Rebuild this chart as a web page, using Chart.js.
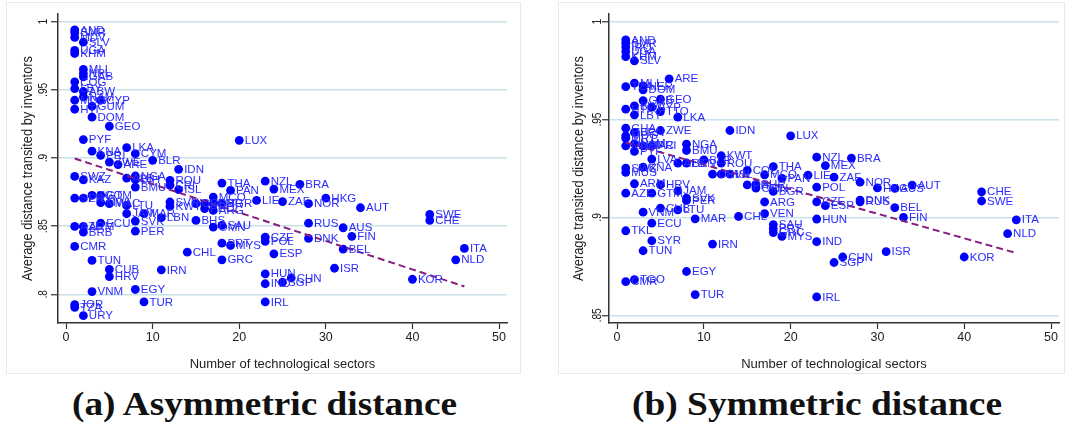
<!DOCTYPE html>
<html>
<head>
<meta charset="utf-8">
<script src="https://cdn.jsdelivr.net/npm/chart.js@4.4.0/dist/chart.umd.min.js"></script>
<style>
  body { margin: 0; background: #fff; width: 1067px; height: 425px; overflow: hidden; position: relative; }
  .panel { position: absolute; top: 2px; height: 372px; border: 1px solid #e2ebee; box-sizing: border-box; }
  .wrap { position: absolute; top: 0; }
  .caption { position: absolute; top: 388px; font: bold 33px 'Liberation Serif', serif; line-height: 33px;
             color: #111; white-space: nowrap; transform-origin: left top; }
</style>
</head>
<body>
<div class="panel" style="left:6px;width:515px"></div>
<div class="panel" style="left:558px;width:507px"></div>
<div class="wrap" style="left:0"><canvas id="asymChart" width="520" height="372"></canvas></div>
<div class="wrap" style="left:551px"><canvas id="symChart" width="516" height="372"></canvas></div>
<div class="caption" id="capA">(a) Asymmetric distance</div>
<div class="caption" id="capB">(b) Symmetric distance</div>

<script>
// Panel (a): asymmetric distance
const asymCodes = [
  'AND','SMR','MDV','SLV','UGA','KHM','MLI','NPL','GAB','COG',
  'LBY','ABW','NAM','MDG','CYP','GUM','HTI','DOM','GEO','PYF',
  'LUX','KNA','LKA','PRI','CYM','ZWE','ARE','BLR','IDN','SWZ',
  'KAZ','ALB','NGA','BIH','BMU','ROU','CRI','ISL','THA','PAN',
  'NZL','SEN','PRY','TGO','GTM','MWI','MAC','LTU','JAM','MAR',
  'SVK','LBN','SVN','KWT','COL','VEN','PHL','MCO','BHR','ARG',
  'BGR','BHS','OMN','SAU','AZE','ARM','BRB','ECU','PER','CMR',
  'TUN','CUB','HRV','IRN','CHL','GRC','PRT','MYS','VNM','EGY',
  'TUR','JOR','TZA','URY','MEX','BRA','LIE','ZAF','NOR','HKG',
  'AUT','RUS','AUS','CZE','POL','DNK','FIN','BEL','ESP','HUN',
  'IND','SGP','CHN','ISR','IRL','KOR','SWE','CHE','ITA','NLD'
];
const asymSectors = [
  1,1,1,2,1,1,2,2,2,1,
  1,2,2,1,4,3,1,3,5,2,
  20,3,7,4,8,5,6,10,13,1,
  2,7,8,8,8,12,12,13,18,19,
  23,1,2,3,4,4,5,7,7,9,
  8,11,12,12,15,16,16,17,17,17,
  18,15,17,18,1,2,2,4,8,1,
  3,5,5,11,14,18,18,19,3,8,
  9,1,1,2,24,27,22,25,28,30,
  34,28,32,23,23,28,33,32,24,23,
  23,25,26,31,23,40,42,42,46,45
];
const asymDistance = [
  .994,.992,.9885,.985,.979,.9767,.965,.962,.9596,.9559,
  .951,.9488,.9449,.9424,.9424,.938,.9358,.930,.9233,.9135,
  .913,.905,.9076,.902,.9032,.897,.8952,.8983,.8917,.8865,
  .884,.8853,.8868,.8841,.8787,.8836,.880,.8768,.8816,.8762,
  .883,.8706,.8706,.8726,.8726,.8672,.8665,.8652,.8591,.8591,
  .8537,.8562,.8677,.8645,.8665,.8665,.8628,.8713,.8665,.8615,
  .8665,.8542,.8493,.8505,.8498,.8498,.8456,.8522,.8463,.8351,
  .8248,.8182,.813,.8179,.8309,.8253,.8375,.8358,.802,.8035,
  .7944,.7924,.7904,.7843,.8772,.8807,.8689,.868,.8665,.8706,
  .8635,.8522,.8488,.8419,.8388,.841,.8425,.8331,.8297,.815,
  .8077,.8088,.812,.8191,.7944,.811,.8586,.8542,.8336,.8253
];
const asymFitX = [1, 46];
const asymFitY = [0.8996, 0.8057];
const asymYTicks = [0.8, 0.85, 0.9, 0.95, 1];
const asymYLabels = ['.8', '.85', '.9', '.95', '1'];

// Panel (b): symmetric distance
const symCodes = [
  'AND','SMR','IRQ','UGA','KHM','SLV','ARE','MLI','TZA','NER',
  'DOM','GAB','GEO','CYP','TTO','BWA','HTI','LBY','LKA','GHA',
  'BRN','ZWE','MDG','MRT','IDN','LUX','MNG','PYF','NAM','MAC',
  'PRI','NGA','BMU','LVA','KWT','BLR','ROU','ALB','BEN','THA',
  'SWZ','MUS','KNA','CRI','SVN','ISL','COL','PHL','BHR','OMN',
  'MCO','PAN','BGR','ARG','VEN','CHL','MAR','SAU','PRT','GRC',
  'MYS','ARM','HRV','AZE','GTM','JAM','SVK','PER','CUB','LTU',
  'VNM','ECU','TKL','SYR','TUN','IRN','EGY','TGO','CMR','TUR',
  'NZL','BRA','MEX','LIE','ZAF','POL','NOR','HKG','AUS','AUT',
  'CZE','ESP','DNK','RUS','BEL','FIN','HUN','IND','CHN','SGP',
  'ISR','KOR','IRL','CHE','SWE','ITA','NLD'
];
const symSectors = [
  1,1,1,1,1,2,6,2,1,3,
  3,3,5,4,5,2,1,2,7,1,
  2,5,1,1,13,20,1,2,2,3,
  4,8,8,4,12,10,12,7,8,18,
  1,1,3,11,12,13,15,15,16,16,
  17,19,18,17,17,14,9,18,18,18,
  19,2,5,1,4,7,8,8,5,7,
  3,4,1,4,3,11,8,2,1,9,
  23,27,24,22,25,23,28,30,32,34,
  23,24,28,28,32,33,23,23,26,25,
  31,40,23,42,42,46,45
];
const symDistance = [
  .9907,.989,.987,.9847,.9821,.980,.9708,.9686,.9668,.9672,
  .9652,.9597,.9604,.9563,.9541,.957,.9553,.9524,.9512,.9456,
  .9434,.9444,.9417,.9405,.9444,.9417,.9366,.9337,.9376,.9366,
  .9366,.9374,.9342,.9298,.9315,.9294,.9278,.9278,.9278,.926,
  .9252,.923,.9257,.9221,.9221,.9221,.924,.9166,.9169,.915,
  .9218,.92,.9133,.9079,.9019,.9005,.8993,.8963,.8942,.8923,
  .8903,.9172,.9167,.9124,.9124,.9136,.9099,.9087,.9048,.9039,
  .9027,.8971,.8932,.8881,.883,.8864,.8724,.8682,.8672,.8606,
  .9308,.9303,.9265,.9216,.9206,.9155,.918,.9151,.9148,.9165,
  .908,.906,.9089,.908,.905,.900,.8992,.8876,.8798,.877,
  .8825,.8798,.8594,.9131,.9084,.8988,.8917
];
const symFitX = [1, 46];
const symFitY = [0.9383, 0.8818];
const symYTicks = [0.85, 0.9, 0.95, 1];
const symYLabels = ['.85', '.9', '.95', '1'];

const xTicks = [0, 10, 20, 30, 40, 50];
const SANS = "'Liberation Sans', Arial, sans-serif";

// country codes next to each dot
const pointLabels = {
  id: 'pointLabels',
  afterDatasetsDraw(chart, args, opts) {
    const meta = chart.getDatasetMeta(1);
    const ctx = chart.ctx;
    ctx.save();
    ctx.font = '11.5px ' + SANS;
    ctx.fillStyle = '#2b2bff';
    ctx.textBaseline = 'middle';
    meta.data.forEach((pt, i) => ctx.fillText(opts.codes[i], pt.x + 5.5, pt.y + 0.5));
    ctx.restore();
  }
};

// Stata style vertical tick labels and axis title on the y axis
const yAxisText = {
  id: 'yAxisText',
  afterDraw(chart, args, opts) {
    const ctx = chart.ctx, ys = chart.scales.y, area = chart.chartArea;
    ctx.save();
    ctx.fillStyle = '#222';
    ctx.textAlign = 'center';
    ctx.textBaseline = 'middle';
    opts.ticks.forEach((v, i) => {
      ctx.save();
      ctx.translate(opts.tickX, ys.getPixelForValue(v));
      ctx.rotate(-Math.PI / 2);
      ctx.scale(0.78, 1);
      ctx.font = '13px ' + SANS;
      ctx.fillText(opts.labels[i], 0, 0);
      ctx.restore();
    });
    ctx.translate(opts.titleX, (area.top + area.bottom) / 2);
    ctx.rotate(-Math.PI / 2);
    ctx.font = '14px ' + SANS;
    const w = ctx.measureText(opts.title).width;
    ctx.scale(opts.titleLen / w, 1);
    ctx.fillText(opts.title, 0, 0);
    ctx.restore();
  }
};

function makeChart(id, codes, xs, ys, fitX, fitY, yMin, yMax, yTicks, yLabels, yTitle, padRight, tickX) {
  const ctx = document.getElementById(id).getContext('2d');
  return new Chart(ctx, {
    type: 'scatter',
    data: {
      datasets: [{
        type: 'line',
        data: fitX.map((x, i) => ({ x: x, y: fitY[i] })),
        borderColor: '#861f80',
        borderWidth: 2,
        borderDash: [7, 4],
        pointRadius: 0,
        fill: false
      }, {
        data: xs.map((x, i) => ({ x: x, y: ys[i] })),
        backgroundColor: '#0000ff',
        borderWidth: 0,
        pointRadius: 4.4
      }]
    },
    options: {
      responsive: false,
      animation: false,
      events: [],
      layout: { padding: { top: 14, right: padRight, left: 0, bottom: 0 } },
      plugins: {
        legend: { display: false },
        tooltip: { enabled: false },
        pointLabels: { codes: codes },
        yAxisText: { ticks: yTicks, labels: yLabels, tickX: tickX, titleX: 28, titleLen: 225, title: yTitle }
      },
      scales: {
        x: {
          type: 'linear', min: -0.93, max: 50.92,
          afterBuildTicks: s => { s.ticks = xTicks.map(v => ({ value: v })); },
          afterFit: s => { s.height = 49; },
          grid: { drawOnChartArea: false, drawTicks: true, tickLength: 6, tickColor: '#333', tickWidth: 1.2 },
          border: { display: true, color: '#333', width: 1.5 },
          ticks: { font: { size: 12.5, family: SANS }, color: '#222', padding: 1, maxRotation: 0, callback: v => String(v) },
          title: { display: true, text: 'Number of technological sectors', font: { size: 13, family: SANS }, color: '#222', padding: { top: 0, bottom: 0 } }
        },
        y: {
          type: 'linear', min: yMin, max: yMax,
          afterBuildTicks: s => { s.ticks = yTicks.map(v => ({ value: v })); },
          afterFit: s => { s.width = 58; },
          grid: { color: '#c8e2ea', lineWidth: 1.5, drawTicks: true, tickLength: 7, tickColor: '#333', tickWidth: 1.2 },
          border: { display: true, color: '#333', width: 1.5 },
          ticks: { display: false }
        }
      }
    },
    plugins: [pointLabels, yAxisText]
  });
}

makeChart('asymChart', asymCodes, asymSectors, asymDistance, asymFitX, asymFitY,
  0.7789, 1.0057, asymYTicks, asymYLabels, 'Average distance transited by inventors', 13, 43);
makeChart('symChart', symCodes, symSectors, symDistance, symFitX, symFitY,
  0.8461, 1.0039, symYTicks, symYLabels, 'Average transited distance by inventors', 8, 46);

// stretch the captions to the width they have in the figure
function fitCaption(id, left, width) {
  const el = document.getElementById(id);
  const w = el.getBoundingClientRect().width;
  el.style.left = left + 'px';
  el.style.transform = 'scaleX(' + (width / w) + ')';
}
fitCaption('capA', 72, 385);
fitCaption('capB', 632, 370);
</script>
</body>
</html>
